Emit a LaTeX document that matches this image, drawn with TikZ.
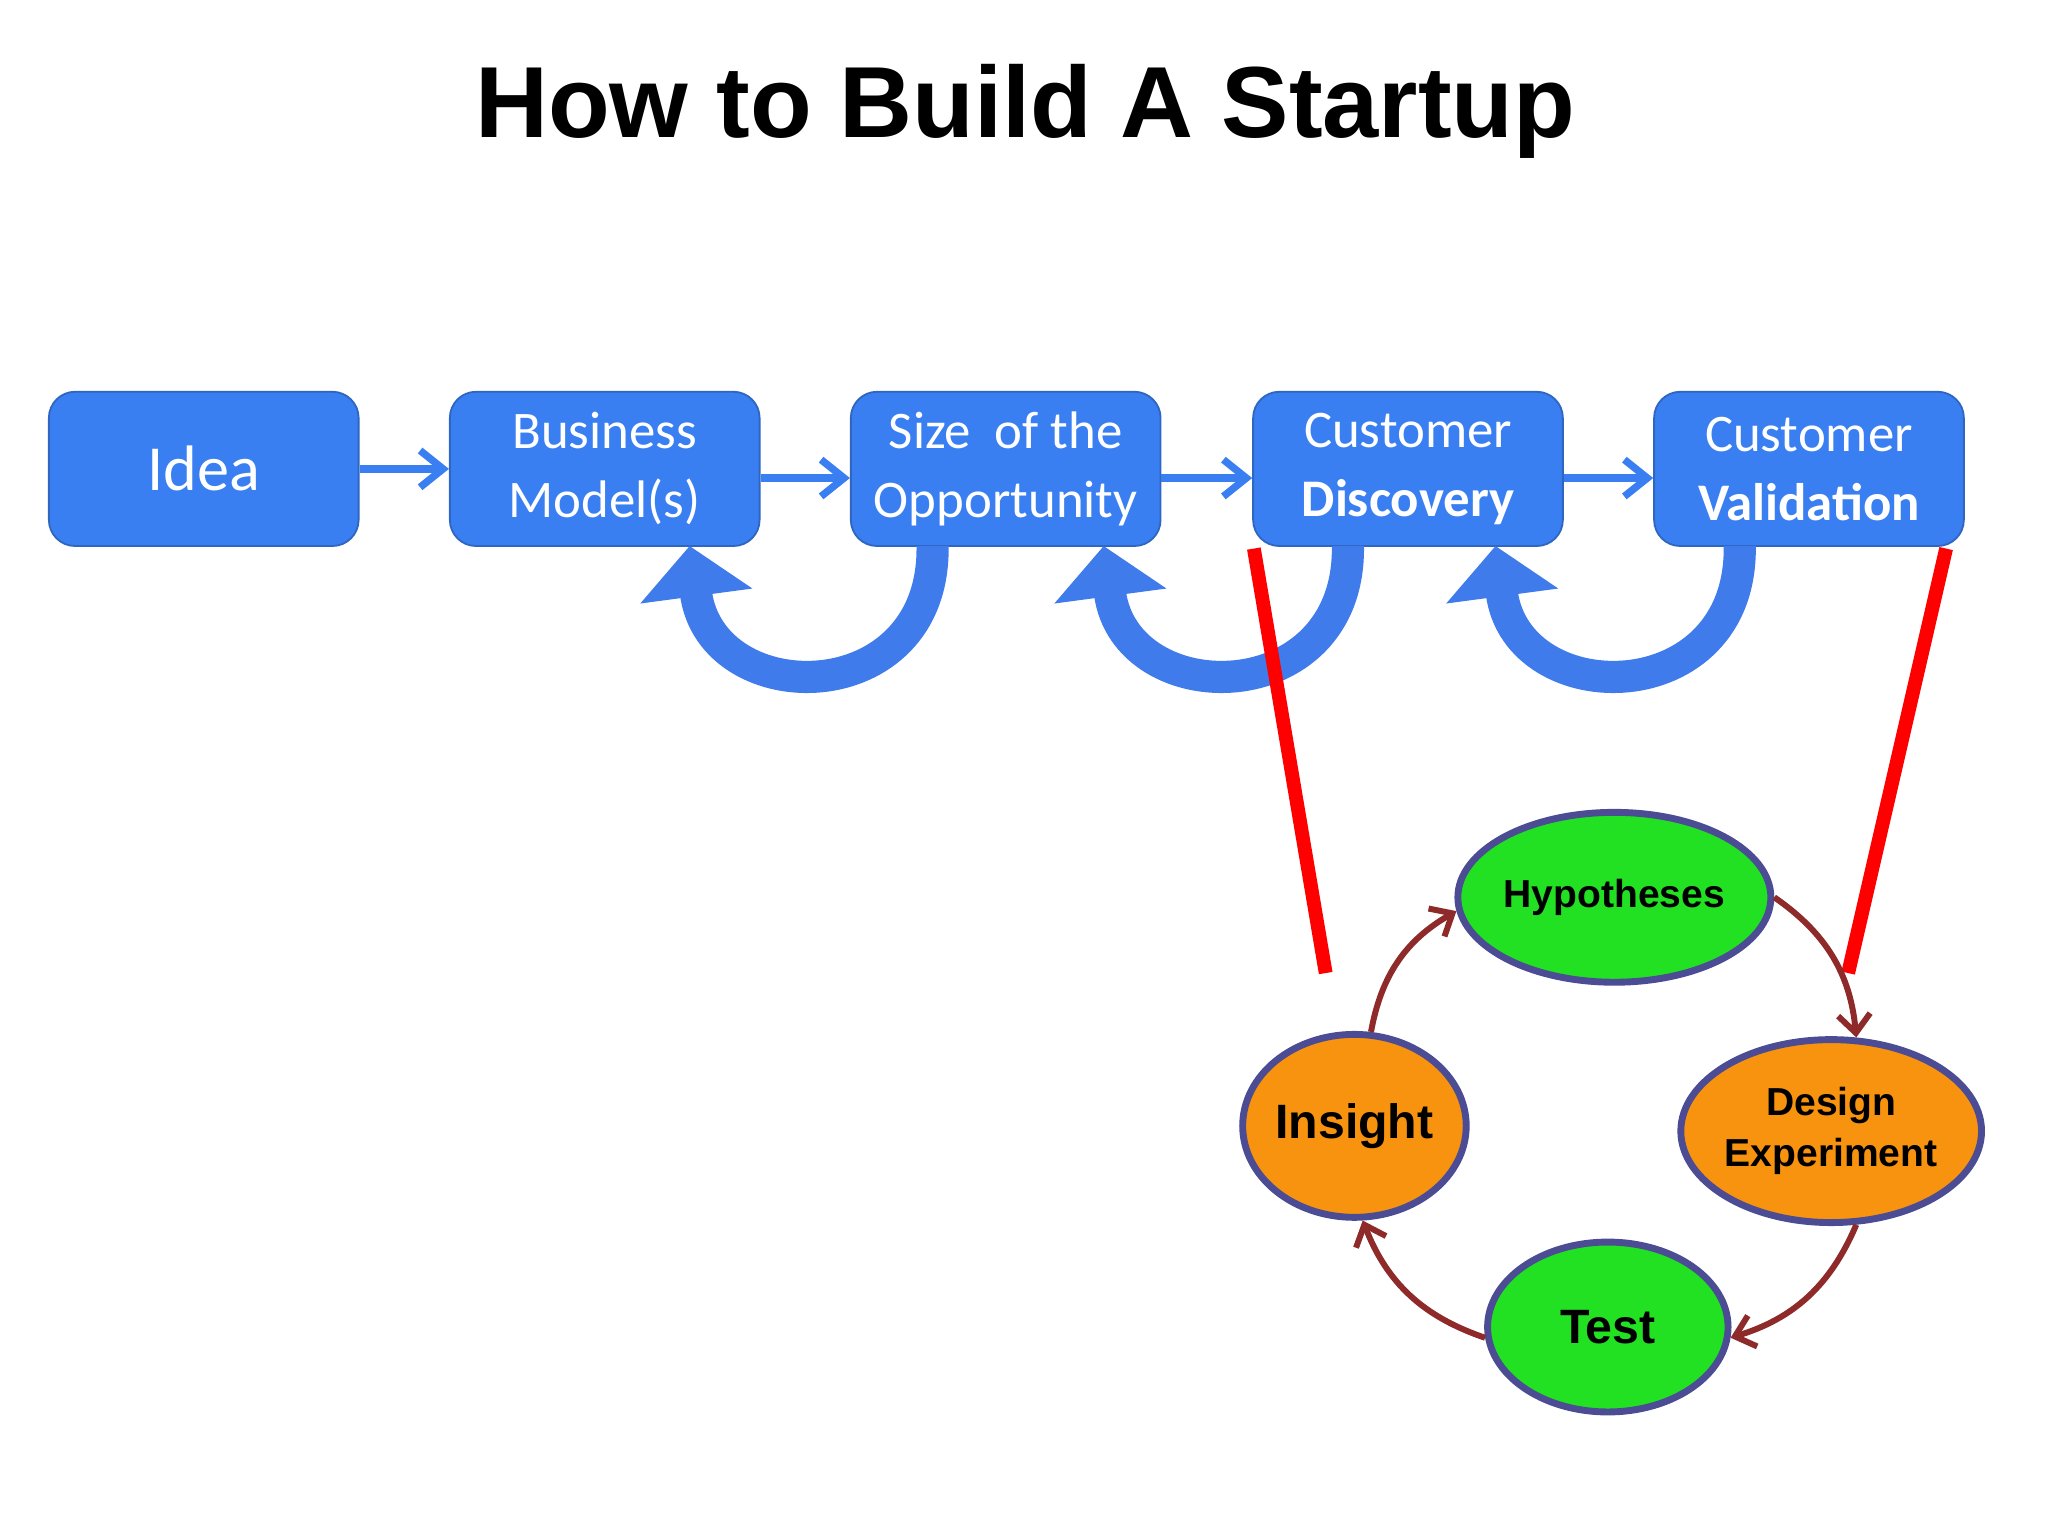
\documentclass[tikz,border=0pt]{standalone}
\usepackage{fontspec}
\setmainfont{Carlito}
\newfontfamily\arialf{Liberation Sans}
\usetikzlibrary{arrows.meta,shapes.geometric}
\definecolor{boxblue}{HTML}{3A7FF2}
\definecolor{curvblue}{HTML}{3F7BEA}
\definecolor{grn}{HTML}{22E022}
\definecolor{org}{HTML}{F7930E}
\definecolor{dred}{HTML}{8E2A2A}
\begin{document}
\begin{tikzpicture}[x=0.01cm,y=-0.01cm,
 box/.style={draw=boxblue!80!black,fill=boxblue,rounded corners=0.2cm,minimum width=2.37cm,minimum height=1.18cm,text=white,align=center,font=\fontsize{11.5}{15}\selectfont},
 flow/.style={-{Straight Barb[length=5pt,width=8pt]},draw=boxblue,line width=1.6pt},
 loop/.style={draw=curvblue,line width=7pt,-{Triangle[length=11pt,width=24pt]}},
 red/.style={draw=red,line width=3pt},
 ell/.style={ellipse,draw=black!60!blue!70,line width=1.5pt,align=center,inner sep=0pt},
 cyc/.style={draw=dred,line width=1.3pt,-{Straight Barb[length=4pt,width=7pt]}}]
\useasboundingbox (0,0) rectangle (1568,1176);
\node[font=\arialf\bfseries\fontsize{22}{26}\selectfont] (title) at (785,85) {How to Build A Startup};
\node[box,font=\fontsize{14}{18}\selectfont] (idea) at (156,359) {Idea};
\node[box] (bm) at (463,359) {Business\\Model(s)};
\node[box] (sz) at (770,359) {Size\ \ of the\\Opportunity};
\node[box] (cd) at (1078,359) {Customer\\\textbf{Discovery}};
\node[box] (cv) at (1385,359) {Customer\\\textbf{Validation}};
\draw[flow] (idea.east) -- (bm.west);
\draw[flow] ([yshift=-0.07cm]bm.east) -- ([yshift=-0.07cm]sz.west);
\draw[flow] ([yshift=-0.07cm]sz.east) -- ([yshift=-0.07cm]cd.west);
\draw[flow] ([yshift=-0.07cm]cd.east) -- ([yshift=-0.07cm]cv.west);
\coordinate (c1) at (714,418); \coordinate (t1) at (528,418);
\coordinate (c2) at (1032,418); \coordinate (t2) at (845,418);
\coordinate (c3) at (1332,418); \coordinate (t3) at (1145,418);
\draw[loop] (c1) .. controls (716,545) and (545,545) .. (t1);
\draw[loop] (c2) .. controls (1034,545) and (862,545) .. (t2);
\draw[loop] (c3) .. controls (1334,545) and (1162,545) .. (t3);
\coordinate (r1) at (1015,745); \coordinate (r2) at (1415,745);
\draw[red] (960,420) -- (r1);
\draw[red] (1490,420) -- (r2);
\node[ell,fill=grn,minimum width=1.84cm,minimum height=1.3cm,font=\arialf\bfseries\fontsize{8.5}{10}\selectfont] (hyp) at (1236,687) {Hypotheses};
\node[ell,fill=org,minimum width=1.56cm,minimum height=1.4cm,font=\arialf\bfseries\fontsize{10.5}{12}\selectfont] (ins) at (1037,862) {Insight};
\node[ell,fill=org,minimum width=1.54cm,minimum height=1.4cm,font=\arialf\bfseries\fontsize{8.5}{11}\selectfont] (des) at (1402,866) {Design\\Experiment};
\node[ell,fill=grn,minimum width=1.84cm,minimum height=1.3cm,font=\arialf\bfseries\fontsize{10.5}{12}\selectfont] (tst) at (1231,1016) {Test};
\draw[cyc] (ins.80) to[bend left=25] (hyp.185);
\draw[cyc] (hyp.0) to[bend left=25] (des.75);
\draw[cyc] (des.-75) to[bend left=25] (tst.-5);
\draw[cyc] (tst.185) to[bend left=25] (ins.-85);
\end{tikzpicture}
\end{document}
